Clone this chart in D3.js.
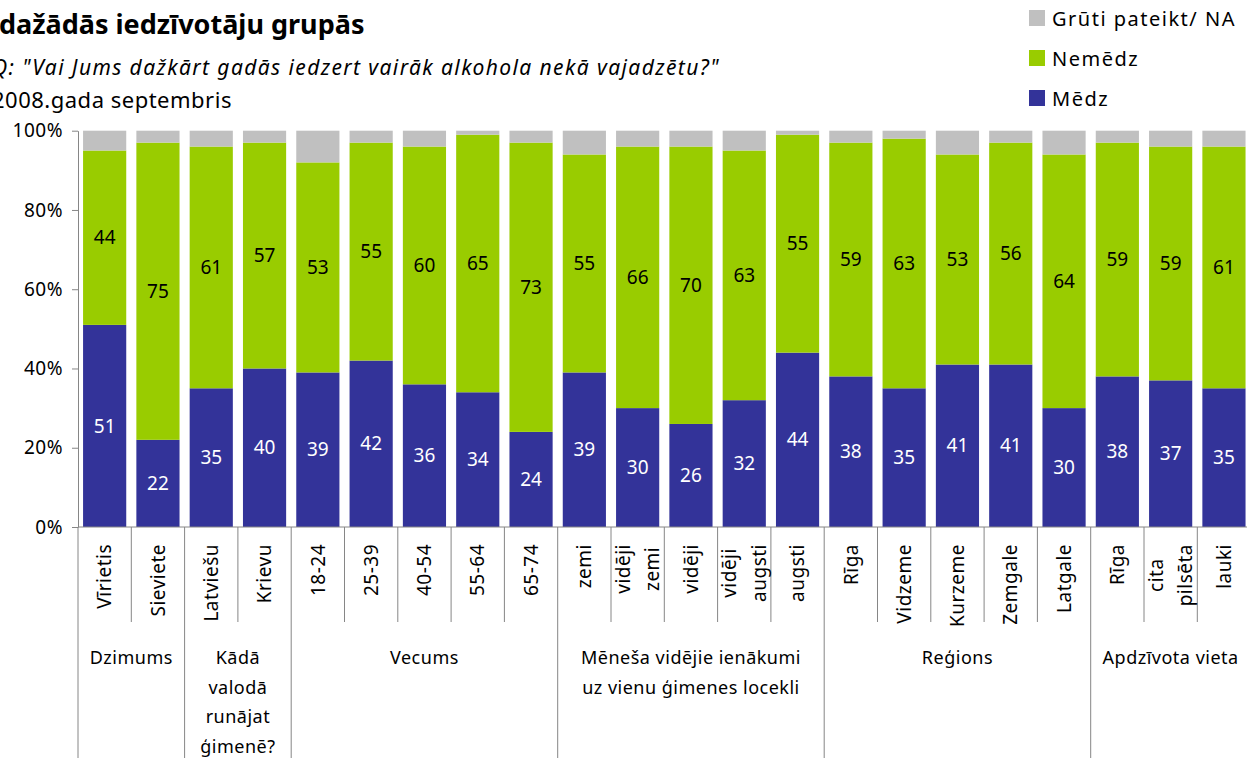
<!DOCTYPE html>
<html>
<head>
<meta charset="utf-8">
<script src="https://cdn.jsdelivr.net/npm/d3@7"></script>
<style>
  body { margin: 0; background: #fff; }
  svg { display: block; font-family: "Noto Sans", sans-serif; }
</style>
</head>
<body>
<svg id="chart" width="1247" height="758"></svg>
<script>
// kategorijas (\n = jauna rindiņa)
const categories = ["Vīrietis", "Sieviete", "Latviešu", "Krievu", "18-24", "25-39", "40-54", "55-64", "65-74",
  "zemi", "vidēji\nzemi", "vidēji", "vidēji\naugsti", "augsti",
  "Rīga", "Vidzeme", "Kurzeme", "Zemgale", "Latgale", "Rīga", "cita\npilsēta", "lauki"];
const medz   = [51, 22, 35, 40, 39, 42, 36, 34, 24, 39, 30, 26, 32, 44, 38, 35, 41, 41, 30, 38, 37, 35];
const nemedz = [44, 75, 61, 57, 53, 55, 60, 65, 73, 55, 66, 70, 63, 55, 59, 63, 53, 56, 64, 59, 59, 61];
const gruti  = [5, 3, 4, 3, 8, 3, 4, 1, 3, 6, 4, 4, 5, 1, 3, 2, 6, 3, 6, 3, 4, 4];
const groupNames = ["Dzimums", "Kādā\nvalodā\nrunājat\nģimenē?", "Vecums",
  "Mēneša vidējie ienākumi\nuz vienu ģimenes locekli", "Reģions", "Apdzīvota vieta"];
const groupSizes = [2, 2, 5, 5, 5, 3];
const seriesNames = ["Grūti pateikt/ NA", "Nemēdz", "Mēdz"];
const yTicks = [0, 20, 40, 60, 80, 100];

const colors = { medz: "#333399", nemedz: "#99cc00", gruti: "#c0c0c0" };
const axisColor = "#868686";

const svg = d3.select("#chart");

// virsraksti
svg.append("text").attr("x", -1).attr("y", 34)
  .attr("font-size", 27).attr("font-weight", "bold")
  .text("dažādās iedzīvotāju grupās");
svg.append("text").attr("x", -8).attr("y", 75)
  .attr("font-size", 21).attr("font-style", "italic").attr("letter-spacing", 1.4)
  .text("Q: \"Vai Jums dažkārt gadās iedzert vairāk alkohola nekā vajadzētu?\"");
svg.append("text").attr("x", -8).attr("y", 108)
  .attr("font-size", 22).attr("letter-spacing", 0.5)
  .text("2008.gada septembris");

// skalas
const x = d3.scaleBand()
  .domain(d3.range(categories.length))
  .range([78, 78 + categories.length * 53.3])
  .paddingInner(0.19)
  .paddingOuter(0.095);

const y = d3.scaleLinear().domain([0, 100]).range([527, 130.7]);

const table = categories.map((c, i) => ({ i: i, medz: medz[i], nemedz: nemedz[i], gruti: gruti[i] }));
const stack = d3.stack().keys(["medz", "nemedz", "gruti"]);
const series = stack(table);

// stabi
const layers = svg.append("g").selectAll("g")
  .data(series)
  .enter().append("g")
  .attr("fill", d => colors[d.key]);

layers.selectAll("rect")
  .data(d => d)
  .enter().append("rect")
  .attr("x", d => x(d.data.i))
  .attr("y", d => y(d[1]))
  .attr("width", x.bandwidth())
  .attr("height", d => y(d[0]) - y(d[1]));

// vērtības
series.filter(s => s.key != "gruti").forEach(s => {
  svg.append("g").selectAll("text")
    .data(s)
    .enter().append("text")
    .attr("x", d => x(d.data.i) + x.bandwidth() / 2)
    .attr("y", d => y((d[0] + d[1]) / 2))
    .attr("dy", "0.35em")
    .attr("text-anchor", "middle")
    .attr("font-size", 19)
    .attr("fill", s.key == "medz" ? "#fff" : "#000")
    .text(d => d.data[s.key]);
});

// y ass
const yAxis = svg.append("g")
  .attr("transform", "translate(78,0)")
  .call(d3.axisLeft(y).tickValues(yTicks).tickFormat(d => d + "%").tickSize(6).tickSizeOuter(0).tickPadding(9));
yAxis.select(".domain").attr("stroke", axisColor);
yAxis.selectAll(".tick line").attr("stroke", axisColor);
yAxis.selectAll(".tick text").attr("font-size", 19).attr("letter-spacing", 0.5)
  .attr("font-family", "Noto Sans").attr("fill", "#000");

// x ass un atdalītāji
const step = x.step();
const x0 = x.range()[0];
svg.append("line")
  .attr("x1", x0).attr("x2", 1247).attr("y1", y(0)).attr("y2", y(0))
  .attr("stroke", axisColor);

let groupEdges = [0];
groupSizes.forEach(n => groupEdges.push(groupEdges[groupEdges.length - 1] + n));

svg.append("g").selectAll("line")
  .data(d3.range(categories.length + 1))
  .enter().append("line")
  .attr("x1", k => x0 + k * step).attr("x2", k => x0 + k * step)
  .attr("y1", y(0))
  .attr("y2", k => groupEdges.includes(k) ? 758 : 622)
  .attr("stroke", axisColor);

// kategoriju nosaukumi (pagriezti)
const lineGap = 29.5;
const catG = svg.append("g").attr("font-size", 19);
categories.forEach((c, i) => {
  const lines = c.split("\n");
  const cx = x(i) + x.bandwidth() / 2;
  const t = catG.append("text")
    .attr("text-anchor", "middle")
    .attr("letter-spacing", 0.5);
  lines.forEach((l, j) => {
    t.append("tspan")
      .attr("x", 0)
      .attr("y", (j - (lines.length - 1) / 2) * lineGap)
      .attr("dy", "0.35em")
      .text(l);
  });
  // garākā rindiņa nosaka centru
  const len = d3.max(t.selectAll("tspan").nodes(), n => n.getComputedTextLength());
  const cy = 544 + len / 2;
  t.attr("transform", "translate(" + cx + "," + cy + ") rotate(-90)");
});

// grupu nosaukumi
const grpG = svg.append("g").attr("font-size", 18).attr("text-anchor", "middle");
groupNames.forEach((g, gi) => {
  const cx = x0 + (groupEdges[gi] + groupEdges[gi + 1]) / 2 * step;
  const t = grpG.append("text").attr("letter-spacing", 0.5);
  g.split("\n").forEach((l, j) => {
    t.append("tspan").attr("x", cx).attr("y", 664 + j * lineGap).text(l);
  });
});

// leģenda
const legKeys = ["gruti", "nemedz", "medz"];
const leg = svg.append("g").selectAll("g")
  .data(legKeys)
  .enter().append("g")
  .attr("transform", (d, i) => "translate(1029," + (10 + i * 40) + ")");
leg.append("rect").attr("width", 16).attr("height", 16).attr("fill", d => colors[d]);
leg.append("text")
  .attr("x", 23).attr("y", 16)
  .attr("font-size", 20).attr("letter-spacing", 1.5)
  .text((d, i) => seriesNames[i]);
</script>
</body>
</html>
